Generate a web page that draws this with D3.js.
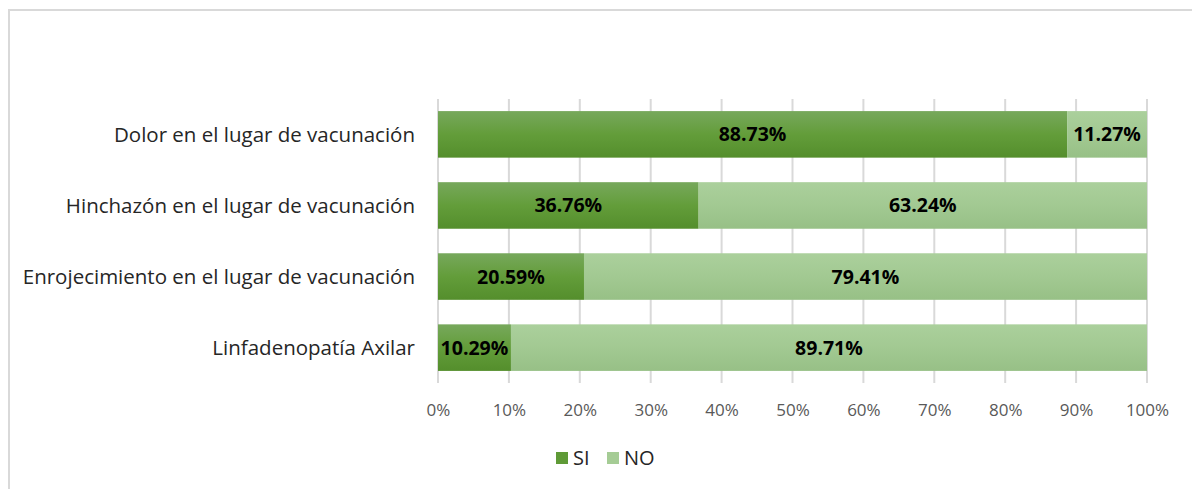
<!DOCTYPE html>
<html>
<head>
<meta charset="utf-8">
<script src="https://cdn.jsdelivr.net/npm/d3@7"></script>
<style>
  html, body { margin: 0; padding: 0; background: #fff; }
  svg { display: block; }
</style>
</head>
<body>
<svg id="chart" width="1192" height="489"></svg>
<script>
// Síntomas locales tras la vacunación (porcentaje SI / NO)
const categories = [
  "Dolor en el lugar de vacunación",
  "Hinchazón en el lugar de vacunación",
  "Enrojecimiento en el lugar de vacunación",
  "Linfadenopatía Axilar"
];
const siValues = [88.73, 36.76, 20.59, 10.29];
const noValues = [11.27, 63.24, 79.41, 89.71];
const seriesNames = ["SI", "NO"];
const xTicks = [0, 10, 20, 30, 40, 50, 60, 70, 80, 90, 100];

const svg = d3.select("#chart");
const W = 1192, H = 489;
const fontFamily = "'Open Sans', 'Noto Sans', sans-serif";

// outer frame
svg.append("rect")
  .attr("x", 9).attr("y", 10)
  .attr("width", W + 10).attr("height", H + 10)
  .attr("fill", "#fff").attr("stroke", "#d9d9d9").attr("stroke-width", 2);

const plot = { left: 438, right: 1147, top: 99, bottom: 383 };

const x = d3.scaleLinear().domain([0, 100]).range([plot.left, plot.right]);
const y = d3.scaleBand().domain(categories).range([plot.top, plot.bottom]).paddingInner(0.345).paddingOuter(0.17);

// gradients
const defs = svg.append("defs");
function grad(id, top, mid, bottom) {
  const g = defs.append("linearGradient").attr("id", id)
    .attr("x1", 0).attr("y1", 0).attr("x2", 0).attr("y2", 1);
  g.append("stop").attr("offset", "0%").attr("stop-color", top);
  g.append("stop").attr("offset", "50%").attr("stop-color", mid);
  g.append("stop").attr("offset", "100%").attr("stop-color", bottom);
}
grad("gSI", "#77a85c", "#639d3a", "#548e2c");
grad("gNO", "#abd09c", "#a2c992", "#97c086");
const fills = ["url(#gSI)", "url(#gNO)"];
const swatch = ["#5f9a37", "#a5cc95"];

// vertical gridlines
svg.append("g").selectAll("line").data(xTicks).join("line")
  .attr("x1", d => x(d)).attr("x2", d => x(d))
  .attr("y1", plot.top).attr("y2", plot.bottom)
  .attr("stroke", "#d9d9d9").attr("stroke-width", 2);

// stacked data
const rows = categories.map((c, i) => ({ cat: c, SI: siValues[i], NO: noValues[i] }));
const stack = d3.stack().keys(seriesNames)(rows);

const layers = svg.append("g").selectAll("g").data(stack).join("g")
  .attr("fill", (d, i) => fills[i]);

layers.selectAll("rect").data(d => d).join("rect")
  .attr("x", d => x(d[0]))
  .attr("width", d => x(d[1]) - x(d[0]))
  .attr("y", d => y(d.data.cat))
  .attr("height", y.bandwidth());

// value labels
layers.selectAll("text").data(d => d.map(v => ({ v, key: d.key }))).join("text")
  .attr("x", d => (x(d.v[0]) + x(d.v[1])) / 2)
  .attr("y", d => y(d.v.data.cat) + y.bandwidth() / 2)
  .attr("dy", "0.36em")
  .attr("text-anchor", "middle")
  .attr("font-family", fontFamily)
  .attr("font-weight", "bold")
  .attr("font-size", 19.5)
  .attr("fill", "#000")
  .text(d => d.v.data[d.key].toFixed(2) + "%");

// category axis labels
svg.append("g").selectAll("text").data(categories).join("text")
  .attr("x", 415)
  .attr("y", d => y(d) + y.bandwidth() / 2)
  .attr("dy", "0.36em")
  .attr("text-anchor", "end")
  .attr("font-family", fontFamily)
  .attr("font-size", 20.5)
  .attr("fill", "#262626")
  .text(d => d);

// x axis tick labels
const xAxis = d3.axisBottom(x).tickValues(xTicks).tickFormat(d => d + "%").tickSize(0).tickPadding(0);
const gx = svg.append("g").attr("transform", `translate(0, ${plot.bottom + 21})`).call(xAxis);
gx.select(".domain").remove();
gx.selectAll("text")
  .attr("font-family", fontFamily)
  .attr("font-size", 17)
  .attr("fill", "#595959");

// legend
const legend = svg.append("g").attr("transform", "translate(556, 458)");
const legendX = [0, 51];
seriesNames.forEach((name, i) => {
  const g = legend.append("g").attr("transform", `translate(${legendX[i]}, 0)`);
  g.append("rect").attr("x", 0).attr("y", -6).attr("width", 12).attr("height", 12).attr("fill", swatch[i]);
  g.append("text").attr("x", 17).attr("y", 0).attr("dy", "0.36em")
    .attr("font-family", fontFamily).attr("font-size", 20).attr("fill", "#262626")
    .text(name);
});
</script>
</body>
</html>
